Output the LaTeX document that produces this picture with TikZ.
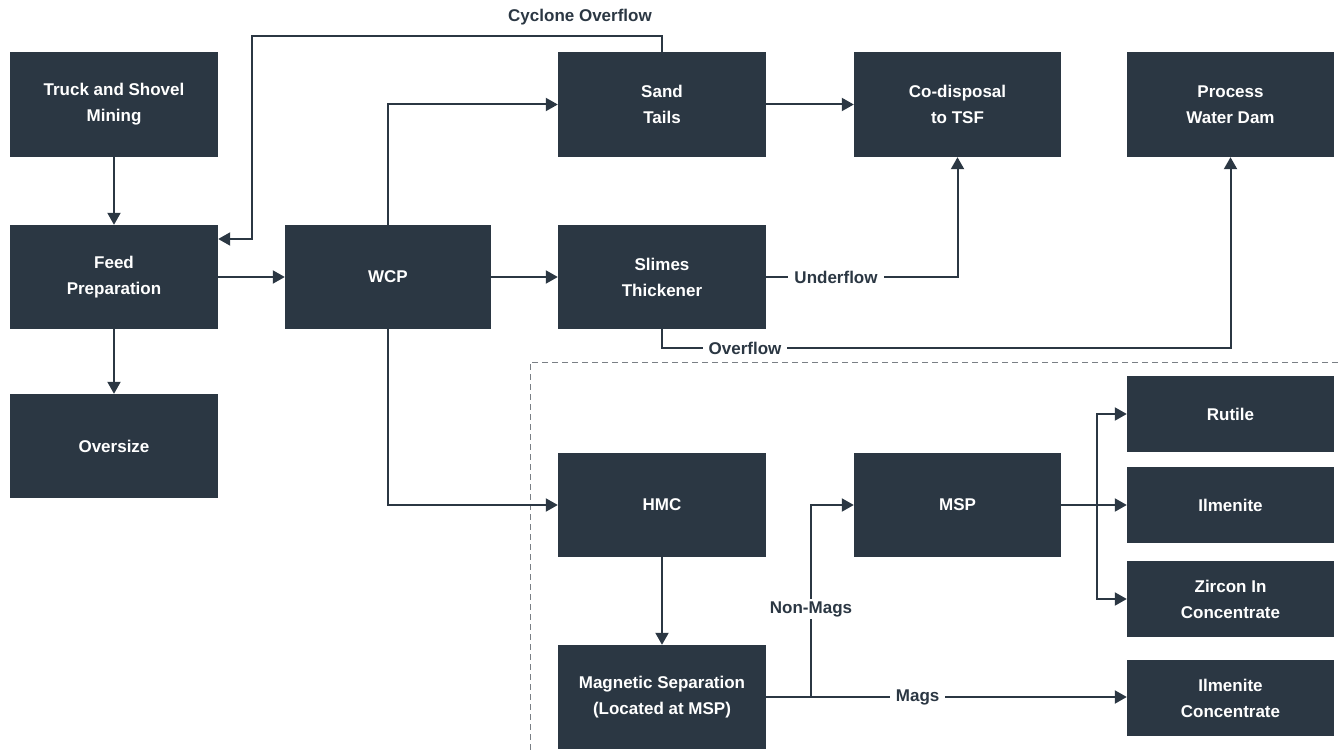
\documentclass[tikz,border=0pt]{standalone}
\usepackage{fontspec}
\setmainfont{Liberation Sans}
\usetikzlibrary{arrows.meta,calc}
\definecolor{boxc}{HTML}{2B3743}
\definecolor{dashc}{HTML}{7A7F85}
\begin{document}
\begin{tikzpicture}[x=1pt,y=-1pt,
  box/.style={fill=boxc,draw=none,text=white,align=center,inner sep=0pt,
    minimum width=208pt,minimum height=105pt,font=\bfseries\fontsize{17}{26}\selectfont},
  sbox/.style={box,minimum height=76pt},
  arr/.style={draw=boxc,line width=2pt,-{Triangle[length=12pt,width=13pt]}},
  ln/.style={draw=boxc,line width=2pt},
  lbl/.style={fill=white,text=boxc,inner xsep=6pt,inner ysep=2pt,font=\bfseries\fontsize{17}{20}\selectfont}]
\useasboundingbox (0,0) rectangle (1338,751);
% nodes
\node[box] (truck) at (114,104.5) {Truck and Shovel\\Mining};
\node[box,minimum height=104pt] (feed) at (114,277) {Feed\\Preparation};
\node[box,minimum height=104pt] (over) at (114,446) {Oversize};
\node[box,minimum width=206pt,minimum height=104pt] (wcp) at (388,277) {WCP};
\node[box] (sand) at (662,104.5) {Sand\\Tails};
\node[box,minimum height=104pt] (slimes) at (662,277) {Slimes\\Thickener};
\node[box,minimum width=207pt] (codisp) at (957.5,104.5) {Co-disposal\\to TSF};
\node[box,minimum width=207pt] (pwd) at (1230.5,104.5) {Process\\Water Dam};
\node[box,minimum height=104pt] (hmc) at (662,505) {HMC};
\node[box,minimum height=104pt] (mag) at (662,697) {Magnetic Separation\\(Located at MSP)};
\node[box,minimum width=207pt,minimum height=104pt] (msp) at (957.5,505) {MSP};
\node[sbox,minimum width=207pt] (rutile) at (1230.5,414) {Rutile};
\node[sbox,minimum width=207pt] (ilm) at (1230.5,505) {Ilmenite};
\node[sbox,minimum width=207pt] (zircon) at (1230.5,599) {Zircon In\\Concentrate};
\node[sbox,minimum width=207pt] (ilmc) at (1230.5,698) {Ilmenite\\Concentrate};
% dashed region
\coordinate (d1) at (1338,362);
\coordinate (d2) at (530,362);
\coordinate (d3) at (530,751);
\draw[dashc,line width=0.8pt,dash pattern=on 6pt off 4pt] (d1) -- (d2) -- (d3);
% connectors
\draw[arr] (truck) -- (feed);
\draw[arr] (feed) -- (over);
\draw[arr] (feed) -- (wcp);
\draw[arr] (wcp.north) |- (sand.west);
\draw[arr] (wcp) -- (slimes);
\draw[arr] (wcp.south) |- (hmc.west);
\draw[arr] (sand) -- (codisp);
\coordinate (cyc) at (252,36);
\draw[arr] (sand.north) |- (cyc) |- ([yshift=38pt]feed.east);
\node[text=boxc,font=\bfseries\fontsize{17}{20}\selectfont] (cyclbl) at (580,17) {Cyclone Overflow};
\draw[arr] (slimes.east) -- node[lbl,pos=0.365] (ulbl) {Underflow} (slimes.east -| codisp.south) -- (codisp.south);
\coordinate (ovf) at (662,348);
\draw[arr] (slimes.south) -- (ovf) -- node[lbl,pos=0.146] (olbl) {Overflow} (ovf -| pwd.south) -- (pwd.south);
\draw[arr] (hmc) -- (mag);
\draw[arr] (mag.east) -- node[lbl,pos=0.42] (mlbl) {Mags} (mag.east -| ilmc.west);
\coordinate (nm) at (811,697);
\draw[arr] (nm) |- (msp.west);
\node[lbl,inner xsep=1pt] (nmlbl) at (811,609) {Non-Mags};
\coordinate (br) at (1097,505);
\draw[ln] (msp.east) -- (br);
\draw[arr] (br) |- (rutile.west);
\draw[arr] (br) -- (ilm.west);
\draw[arr] (br) |- (zircon.west);
\end{tikzpicture}
\end{document}
